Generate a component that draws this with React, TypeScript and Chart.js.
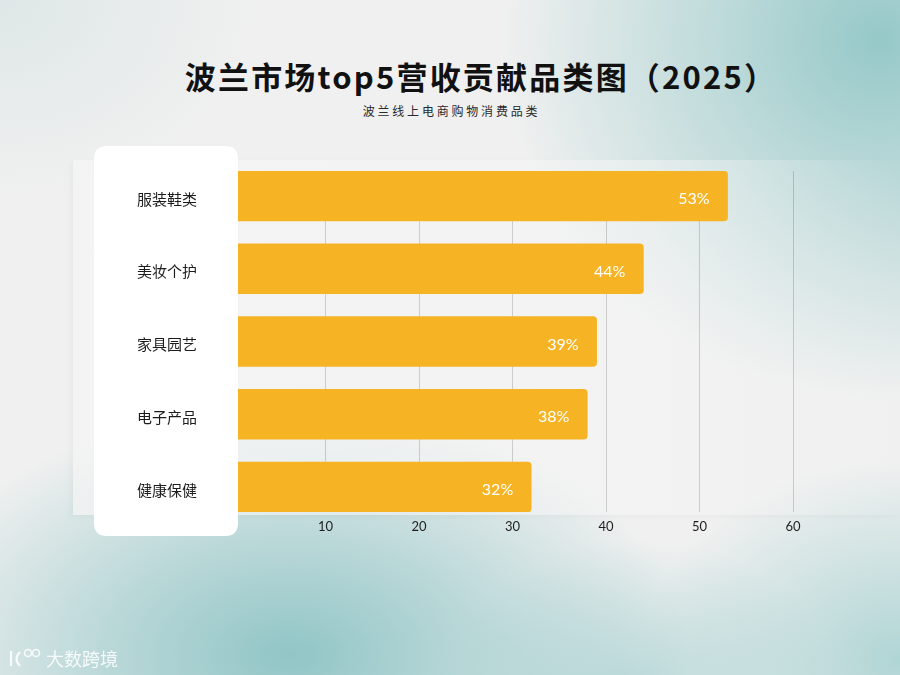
import React, { useEffect, useRef } from "react";
import { Chart, registerables } from "chart.js";

Chart.register(...registerables);

const categories = ["服装鞋类", "美妆个护", "家具园艺", "电子产品", "健康保健"];
const shares = [53, 44, 39, 38, 32];
const xTicks = [10, 20, 30, 40, 50, 60];

const BAR_COLOR = "#F6B425";

export default function App() {
  const ref = useRef<HTMLCanvasElement | null>(null);

  useEffect(() => {
    const canvas = ref.current;
    if (!canvas) return;

    const boxPlugin = {
      id: "whiteBoxAndLabels",
      afterDatasetsDraw(chart: any) {
        const ctx = chart.ctx;
        ctx.save();
        const x = 94, y = 146, w = 144, h = 390, r = 13;
        ctx.fillStyle = "#ffffff";
        ctx.beginPath();
        ctx.moveTo(x + r, y);
        ctx.lineTo(x + w - r, y);
        ctx.quadraticCurveTo(x + w, y, x + w, y + r);
        ctx.lineTo(x + w, y + h - r);
        ctx.quadraticCurveTo(x + w, y + h, x + w - r, y + h);
        ctx.lineTo(x + r, y + h);
        ctx.quadraticCurveTo(x, y + h, x, y + h - r);
        ctx.lineTo(x, y + r);
        ctx.quadraticCurveTo(x, y, x + r, y);
        ctx.closePath();
        ctx.fill();
        ctx.restore();

        const meta = chart.getDatasetMeta(0);
        ctx.save();
        ctx.fillStyle = "#ffffff";
        ctx.font = "16px Lato";
        ctx.textAlign = "right";
        ctx.textBaseline = "middle";
        meta.data.forEach((bar: any, i: number) => {
          ctx.fillText(shares[i] + "%", bar.x - 18, bar.y + 3);
        });
        ctx.restore();
      },
    };

    const chart = new Chart(canvas, {
      type: "bar",
      data: {
        datasets: [
          {
            data: shares.map((v, i) => ({ x: v, y: i })),
            backgroundColor: BAR_COLOR,
            borderRadius: 4,
            borderSkipped: "start",
            barThickness: 50,
          },
        ],
      },
      options: {
        indexAxis: "y",
        responsive: false,
        animation: false,
        layout: { padding: { left: 112, right: 107, top: 171, bottom: 133 } },
        plugins: {
          legend: { display: false },
          tooltip: { enabled: false },
        },
        scales: {
          x: {
            type: "linear",
            min: 0,
            max: 60,
            border: { display: false },
            grid: { color: "rgba(0,0,0,0.16)", lineWidth: 1, drawTicks: false },
            ticks: {
              stepSize: 10,
              padding: 7,
              color: "#1e1e1e",
              font: { family: "Lato", size: 13 },
              callback: (v: any) => (xTicks.includes(Number(v)) ? String(v) : ""),
            },
            afterFit: (axis: any) => {
              axis.height = 30;
            },
          },
          y: {
            type: "linear",
            reverse: true,
            offset: false,
            min: -0.3436,
            max: 4.3436,
            border: { display: false },
            grid: { display: false, drawTicks: false, offset: false },
            afterBuildTicks: (axis: any) => {
              axis.ticks = categories.map((_, i) => ({ value: i }));
            },
            ticks: {
              z: 2,
              autoSkip: false,
              crossAlign: "near",
              padding: 35,
              labelOffset: 3,
              color: "#1c1c1c",
              font: { family: "'Noto Sans CJK SC'", size: 15 },
              callback: (v: any) => {
                const n = Math.round(Number(v));
                return categories[n] ?? "";
              },
            },
            afterFit: (axis: any) => {
              axis.width = 120;
            },
          },
        },
      },
      plugins: [boxPlugin],
    } as any);

    return () => chart.destroy();
  }, []);

  return (
    <div
      style={{
        position: "fixed",
        left: 0,
        top: 0,
        width: 900,
        height: 675,
        overflow: "hidden",
        background: [
          "radial-gradient(ellipse 400px 250px at 290px 655px, rgba(140,195,196,0.95) 0%, rgba(140,195,196,0.55) 45%, rgba(140,195,196,0) 100%)",
          "radial-gradient(ellipse 380px 360px at 880px 40px, rgba(145,198,198,0.95) 0%, rgba(145,198,198,0.5) 45%, rgba(145,198,198,0) 100%)",
          "radial-gradient(ellipse 260px 200px at 900px 660px, rgba(160,206,206,0.8) 0%, rgba(160,206,206,0) 100%)",
          "radial-gradient(ellipse 200px 150px at 640px 690px, rgba(160,206,206,0.6) 0%, rgba(160,206,206,0) 100%)",
          "radial-gradient(ellipse 260px 200px at 0px 0px, rgba(205,222,222,0.5) 0%, rgba(205,222,222,0) 100%)",
          "#f0f0f0",
        ].join(","),
      }}
    >
      <div
        style={{
          position: "absolute",
          left: 73,
          top: 160,
          width: 827,
          height: 355,
          background:
            "linear-gradient(90deg, rgba(245,245,245,0.7) 0%, rgba(245,245,245,0.5) 70%, rgba(245,245,245,0) 100%)",
          boxShadow: "-3px 2px 6px rgba(0,0,0,0.03)",
        }}
      />
      <div
        style={{
          position: "absolute",
          left: 0,
          top: 56,
          width: 962,
          textAlign: "center",
          whiteSpace: "nowrap",
          fontFamily: "'Noto Sans CJK SC'",
          fontWeight: 700,
          fontSize: 31,
          lineHeight: "40px",
          letterSpacing: 2.2,
          color: "#111111",
        }}
      >
        波兰市场top5营收贡献品类图（2025）
      </div>
      <div
        style={{
          position: "absolute",
          left: 0,
          top: 102,
          width: 903,
          textAlign: "center",
          whiteSpace: "nowrap",
          fontFamily: "'Noto Sans CJK SC'",
          fontSize: 12,
          lineHeight: "18px",
          letterSpacing: 2.8,
          color: "#2a2a2a",
        }}
      >
        波兰线上电商购物消费品类
      </div>
      <canvas
        ref={ref}
        width={900}
        height={675}
        style={{ position: "absolute", left: 0, top: 0, width: 900, height: 675 }}
      />
      <div
        style={{
          position: "absolute",
          left: 8,
          top: 646,
          display: "flex",
          alignItems: "center",
          gap: 4,
          color: "rgba(255,255,255,0.85)",
          fontFamily: "'Noto Sans CJK SC'",
          fontSize: 18,
          lineHeight: "24px",
          whiteSpace: "nowrap",
        }}
      >
        <svg width="34" height="22" viewBox="0 0 34 22">
          <path d="M3 4 L3 19" stroke="rgba(255,255,255,0.85)" strokeWidth="2.2" fill="none" />
          <path d="M12 5 Q5 12 12 19" stroke="rgba(255,255,255,0.85)" strokeWidth="2.2" fill="none" />
          <circle cx="20" cy="6" r="3.5" stroke="rgba(255,255,255,0.85)" strokeWidth="1.6" fill="none" />
          <circle cx="28" cy="6" r="3.5" stroke="rgba(255,255,255,0.85)" strokeWidth="1.6" fill="none" />
        </svg>
        <span>大数跨境</span>
      </div>
    </div>
  );
}
